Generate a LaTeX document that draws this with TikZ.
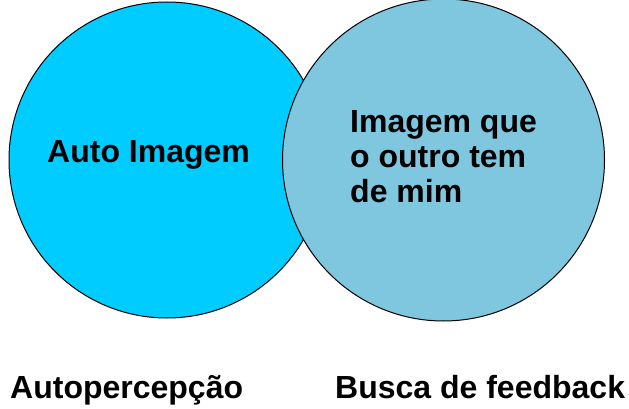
\documentclass[tikz,border=0pt]{standalone}
\usepackage{fontspec}
\setmainfont{Liberation Sans}
\usetikzlibrary{positioning}

\begin{document}
\begin{tikzpicture}
        [ x=1pt, y=-1pt
        , bubble/.style={circle, draw=black, line width=1pt, inner sep=0pt}
        , lbl/.style={font=\fontsize{32}{35}\selectfont\bfseries, inner sep=0pt}
        ]
        \definecolor{selfblue}{HTML}{00CCFF}
        \definecolor{otherblue}{HTML}{7FC6DF}

        \useasboundingbox (0,0) rectangle (629,409);

        \node (self) [bubble, fill=selfblue, minimum size=316pt] at (167,160) {};
        \node (other) [bubble, fill=otherblue, minimum size=322pt] at (443.5,160) {};

        \node (selfimg) [lbl, anchor=base west] at (47,163) {Auto Imagem};
        \node (otherimg) [lbl, anchor=north west, align=left] at (350,110)
            {Imagem que\\o outro tem\\de mim};

        \node (selfperc) [lbl, anchor=base west] at (10,398) {Autopercepção};
        \node (feedback) [lbl, anchor=base west] at (335,398) {Busca de feedback};
\end{tikzpicture}
\end{document}
